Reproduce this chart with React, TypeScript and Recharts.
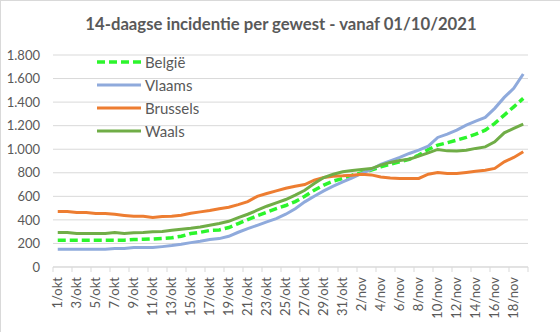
import React from "react";
import { LineChart, Line, XAxis, YAxis, CartesianGrid } from "recharts";

const dates: string[] = [
  ...Array.from({ length: 31 }, (_, i) => `${i + 1}/okt`),
  ...Array.from({ length: 19 }, (_, i) => `${i + 1}/nov`),
];

const belgie = [
  228, 228, 228, 228, 228, 228, 228, 228, 233, 235, 238, 242, 248, 261, 284, 295, 310, 315, 335, 369,
  403, 435, 465, 495, 522, 555, 601, 652, 695, 729, 752, 780, 800, 822, 850, 873, 893, 915, 950, 998,
  1035, 1055, 1077, 1100, 1128, 1162, 1219, 1290, 1360, 1432,
];

const vlaams = [
  150, 150, 150, 150, 150, 150, 157, 157, 165, 165, 165, 173, 182, 193, 207, 218, 233, 241, 261, 295,
  326, 354, 383, 411, 448, 495, 553, 601, 646, 686, 723, 757, 794, 828, 871, 901, 930, 964, 992, 1026,
  1100, 1128, 1162, 1205, 1239, 1270, 1347, 1440, 1517, 1639,
];

const brussels = [
  472, 472, 462, 462, 455, 455, 447, 438, 430, 430, 421, 428, 430, 440, 457, 468, 480, 494, 508, 530,
  555, 600, 624, 646, 668, 685, 700, 737, 760, 771, 774, 780, 788, 782, 765, 755, 752, 752, 752, 788,
  803, 794, 794, 803, 812, 822, 837, 893, 930, 978,
];

const waals = [
  292, 292, 285, 285, 285, 285, 292, 285, 290, 292, 300, 302, 312, 320, 329, 340, 354, 369, 388, 420,
  448, 482, 516, 544, 573, 610, 652, 709, 760, 788, 808, 819, 828, 836, 865, 888, 905, 915, 941, 969,
  998, 986, 984, 992, 1007, 1020, 1063, 1139, 1177, 1213,
];

const yTicks = [0, 200, 400, 600, 800, 1000, 1200, 1400, 1600, 1800];

const data = dates.map((d, i) => ({
  date: d,
  België: belgie[i],
  Vlaams: vlaams[i],
  Brussels: brussels[i],
  Waals: waals[i],
}));

const FONT = "Lato, 'Open Sans', sans-serif";
const TEXT = "#595959";
const GRID = "#d9d9d9";

const series = [
  { key: "België", color: "#2cf52c", width: 3.5, dash: "8 4" },
  { key: "Vlaams", color: "#8faadc", width: 3 },
  { key: "Brussels", color: "#ed7d31", width: 3 },
  { key: "Waals", color: "#70ad47", width: 3 },
];

const W = 560;
const H = 332;
const LEFT = 53;
const RIGHT = 32;
const BAND = (W - LEFT - RIGHT) / dates.length;

const XTick = (props: any) => {
  const { x, y, payload } = props;
  const yy = y - 8;
  return (
    <g>
      <line x1={x - BAND / 2} x2={x - BAND / 2} y1={yy} y2={yy + 5} stroke={GRID} />
      {payload.index === dates.length - 2 && (
        <line x1={x + BAND * 1.5} x2={x + BAND * 1.5} y1={yy} y2={yy + 5} stroke={GRID} />
      )}
      <text
        x={x}
        y={yy + 10}
        transform={`rotate(-90, ${x}, ${yy + 10})`}
        textAnchor="end"
        dy="0.35em"
        fill={TEXT}
        fontSize={13}
        fontFamily={FONT}
      >
        {payload.value}
      </text>
    </g>
  );
};

const LegendBox = () => (
  <div style={{ position: "absolute", left: 95, top: 49, fontFamily: FONT, fontSize: 15, color: TEXT }}>
    {series.map((s) => (
      <div key={s.key} style={{ display: "flex", alignItems: "center", height: 23 }}>
        <svg width={46} height={10}>
          <line
            x1={1}
            x2={45}
            y1={5}
            y2={5}
            stroke={s.color}
            strokeWidth={s.width}
            strokeDasharray={s.dash}
          />
        </svg>
        <span style={{ marginLeft: 3 }}>{s.key}</span>
      </div>
    ))}
  </div>
);

export default function App() {
  return (
    <div
      style={{
        position: "absolute",
        left: 0,
        top: 0,
        width: W,
        height: H,
        background: "#fff",
        borderTop: `1px solid ${GRID}`,
        borderLeft: `1px solid ${GRID}`,
        boxSizing: "border-box",
      }}
    >
      <div
        style={{
          position: "absolute",
          top: 13,
          left: 0,
          width: W,
          textAlign: "center",
          fontFamily: FONT,
          fontWeight: "bold",
          fontSize: 16.7,
          color: TEXT,
        }}
      >
        14-daagse incidentie per gewest - vanaf 01/10/2021
      </div>
      <div style={{ position: "absolute", left: -1, top: -1 }}>
        <LineChart
          width={W}
          height={H}
          data={data}
          margin={{ top: 55, right: RIGHT, left: 0, bottom: 0 }}
        >
          <CartesianGrid vertical={false} stroke={GRID} />
          <XAxis
            dataKey="date"
            scale="band"
            interval={1}
            height={65}
            axisLine={{ stroke: GRID }}
            tickLine={false}
            tick={<XTick />}
          />
          <YAxis
            width={LEFT}
            domain={[0, 1800]}
            ticks={yTicks}
            interval={0}
            axisLine={false}
            tickLine={false}
            tickMargin={7}
            tickFormatter={(v: number) => v.toLocaleString("de-DE")}
            tick={{ fill: TEXT, fontSize: 13, fontFamily: FONT }}
          />
          {series.map((s) => (
            <Line
              key={s.key}
              dataKey={s.key}
              stroke={s.color}
              strokeWidth={s.width}
              strokeDasharray={s.dash}
              dot={false}
              activeDot={false}
              isAnimationActive={false}
              type="linear"
            />
          ))}
        </LineChart>
      </div>
      <LegendBox />
    </div>
  );
}
